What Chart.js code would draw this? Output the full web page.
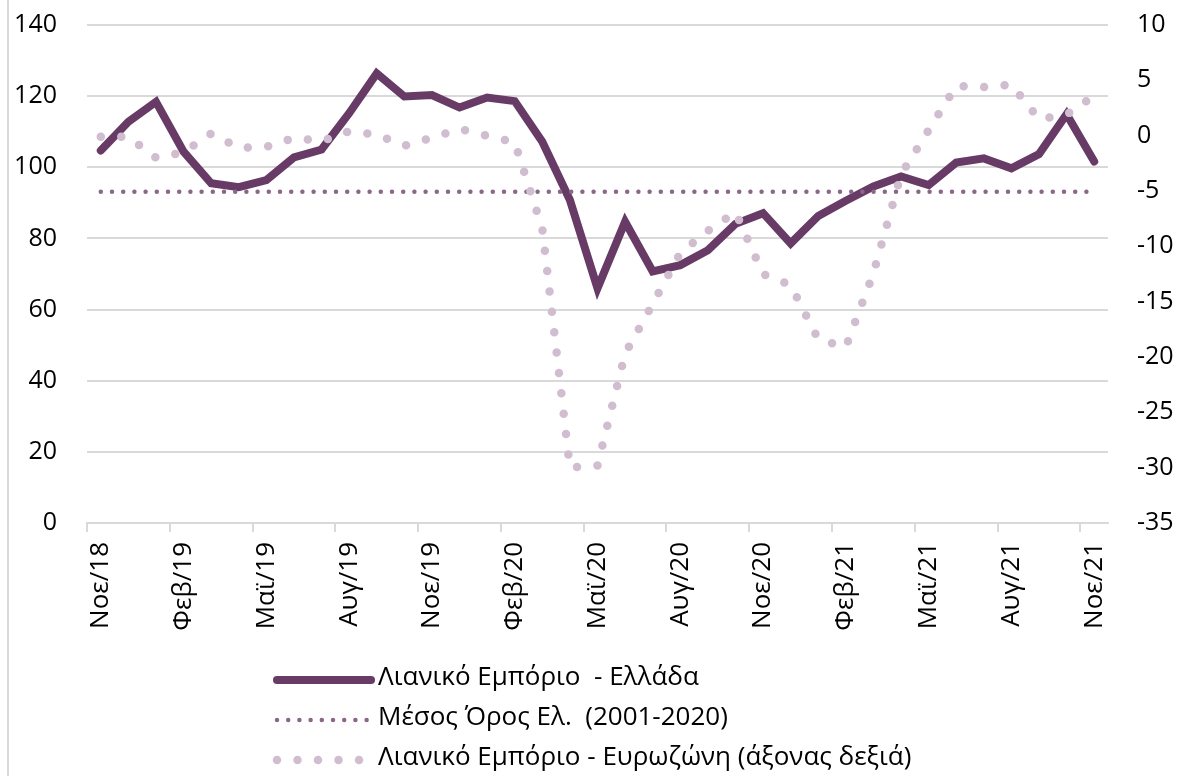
<!DOCTYPE html>
<html>
<head>
<meta charset="utf-8">
<script src="https://cdn.jsdelivr.net/npm/chart.js@4"></script>
<style>
  body { margin: 0; background: #fff; }
  #wrap { width: 1178px; height: 776px; position: relative; }
</style>
</head>
<body>
<div id="wrap"><canvas id="myChart"></canvas></div>
<script>
// months Nov/18 .. Nov/21
var categories = [
  'Νοε/18','Δεκ/18','Ιαν/19','Φεβ/19','Μαρ/19','Απρ/19','Μαϊ/19','Ιουν/19','Ιουλ/19','Αυγ/19','Σεπ/19','Οκτ/19',
  'Νοε/19','Δεκ/19','Ιαν/20','Φεβ/20','Μαρ/20','Απρ/20','Μαϊ/20','Ιουν/20','Ιουλ/20','Αυγ/20','Σεπ/20','Οκτ/20',
  'Νοε/20','Δεκ/20','Ιαν/21','Φεβ/21','Μαρ/21','Απρ/21','Μαϊ/21','Ιουν/21','Ιουλ/21','Αυγ/21','Σεπ/21','Οκτ/21',
  'Νοε/21'
];

// left axis
var greece = [104.7, 112.8, 118.4, 104.4, 95.5, 94.4, 96.4, 102.8, 105.0, 115.2, 126.4, 119.9,
  120.3, 116.8, 119.6, 118.6, 107.2, 90.8, 66.0, 84.7, 70.7, 72.5, 76.7, 84.1,
  87.1, 78.6, 86.3, 90.6, 94.6, 97.4, 95.0, 101.3, 102.5, 99.7, 103.7, 114.9,
  101.6];
var meanGreece = 93.1; // 2001-2020 average

// right axis
var eurozone = [-0.1, -0.1, -2.0, -1.5, 0.2, -1.1, -1.0, -0.2, -0.5, 0.4, 0.1, -0.9,
  -0.2, 0.6, 0.0, -0.6, -8.4, -30.0, -29.8, -19.7, -15.2, -10.6, -8.6, -6.9,
  -12.5, -13.5, -18.4, -19.1, -12.4, -3.5, 0.5, 4.5, 4.4, 4.6, 1.5, 1.9,
  3.6];

var leftTicks = { min: 0, max: 140, step: 20 };
var rightTicks = { min: -35, max: 10, step: 5 };

var labels = [
  'Λιανικό Εμπόριο  - Ελλάδα',
  'Μέσος Όρος Ελ.  (2001-2020)',
  'Λιανικό Εμπόριο - Ευρωζώνη (άξονας δεξιά)'
];

var FONT = '"Open Sans", "Noto Sans", sans-serif';
var GRID = '#d9d9d9';

// frame line on the left + legend under the plot
var frameLegend = {
  id: 'frameLegend',
  beforeDraw: function(chart) {
    var ctx = chart.ctx;
    ctx.save();
    ctx.fillStyle = GRID;
    ctx.fillRect(7, 0, 2, chart.height);
    ctx.restore();
  },
  afterDraw: function(chart) {
    var ctx = chart.ctx;
    ctx.save();
    chart.data.datasets.forEach(function(ds, i) {
      var y = 680 + i * 40;
      ctx.strokeStyle = ds.borderColor;
      ctx.lineWidth = ds.borderWidth;
      ctx.lineCap = 'round';
      ctx.setLineDash(ds.borderDash || []);
      ctx.beginPath();
      ctx.moveTo(277, y);
      ctx.lineTo(i === 0 ? 371 : 367, y);
      ctx.stroke();
      ctx.setLineDash([]);
      ctx.fillStyle = '#000';
      ctx.font = '26px ' + FONT;
      ctx.textBaseline = 'middle';
      ctx.fillText(ds.label, 378, y - 2);
    });
    ctx.restore();
  }
};

// y axes: fixed width, no extra top padding from tick padding
function fixY(w) {
  return function(s) {
    s.width = w;
    s.paddingTop = 0;
    s.paddingBottom = 0;
  };
}

var ctx = document.getElementById('myChart');
var grafica = new Chart(ctx, {
  type: 'line',
  data: {
    labels: categories,
    datasets: [{
      label: labels[0],
      data: greece,
      yAxisID: 'y',
      borderColor: '#673b66',
      borderWidth: 8,
      borderCapStyle: 'round',
      borderJoinStyle: 'miter',
      pointRadius: 0,
      order: 3
    }, {
      label: labels[1],
      data: Array(categories.length).fill(meanGreece),
      yAxisID: 'y',
      borderColor: '#8a6689',
      borderWidth: 4.5,
      borderDash: [0, 11.2],
      borderCapStyle: 'round',
      pointRadius: 0,
      order: 2
    }, {
      label: labels[2],
      data: eurozone,
      yAxisID: 'y1',
      borderColor: '#d0bdcf',
      borderWidth: 8.5,
      borderDash: [0, 20.5],
      borderCapStyle: 'round',
      pointRadius: 0,
      order: 1
    }]
  },
  options: {
    responsive: true,
    maintainAspectRatio: false,
    animation: false,
    layout: { padding: { left: 0, right: 0, top: 25, bottom: 120 } },
    plugins: {
      legend: { display: false },
      tooltip: { enabled: false }
    },
    scales: {
      x: {
        offset: true,
        afterFit: function(s) { s.height = 133; },
        grid: {
          offset: true,
          drawOnChartArea: false,
          drawTicks: true,
          tickLength: 9,
          lineWidth: 2,
          color: function(c) { return c.index % 3 === 0 ? GRID : 'transparent'; }
        },
        border: { display: true, color: GRID, width: 2 },
        ticks: {
          autoSkip: false,
          maxRotation: 90,
          minRotation: 90,
          padding: 10,
          color: '#000',
          font: { family: FONT, size: 26 },
          callback: function(v, i) { return i % 3 === 0 ? categories[i] : ''; }
        }
      },
      y: {
        position: 'left',
        min: leftTicks.min,
        max: leftTicks.max,
        afterFit: fixY(87),
        grid: { color: GRID, lineWidth: 2, drawTicks: false },
        border: { display: false },
        ticks: {
          stepSize: leftTicks.step,
          padding: 30,
          color: '#000',
          font: { family: FONT, size: 25 }
        }
      },
      y1: {
        position: 'right',
        min: rightTicks.min,
        max: rightTicks.max,
        afterFit: fixY(70),
        grid: { drawOnChartArea: false, drawTicks: false },
        border: { display: false },
        ticks: {
          stepSize: rightTicks.step,
          padding: 29,
          color: '#000',
          font: { family: FONT, size: 25 }
        }
      }
    }
  },
  plugins: [frameLegend]
});
</script>
</body>
</html>
